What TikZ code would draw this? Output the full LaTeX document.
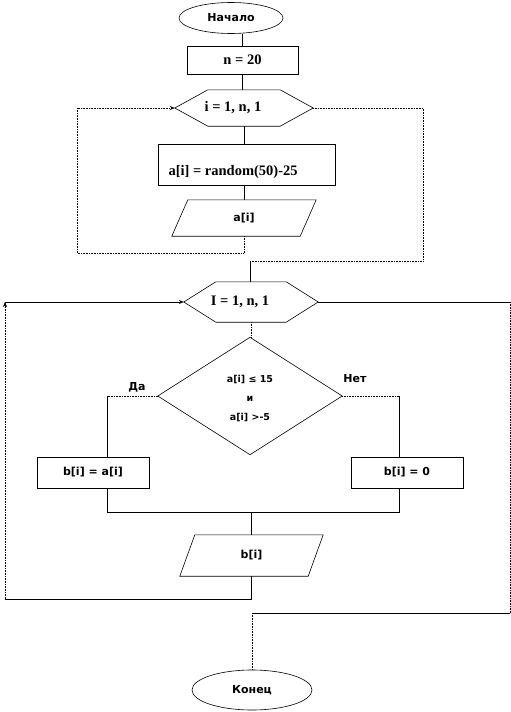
\documentclass[tikz,border=0pt]{standalone}
\usepackage{fontspec}
\setmainfont{Liberation Serif}
\newfontfamily\bsans{DejaVu Sans}[BoldFont={DejaVu Sans Bold}]
\usetikzlibrary{shapes.geometric,arrows.meta}
\newcommand\drawhex[2]{\draw[shapeline] (#1.west) -- ([xshift=#2]#1.north west) -- ([xshift=-#2]#1.north east) -- (#1.east) -- ([xshift=-#2]#1.south east) -- ([xshift=#2]#1.south west) -- cycle;}
\newcommand\drawpara[2]{\draw[shapeline] ([xshift=#2]#1.north west) -- (#1.north east) -- ([xshift=-#2]#1.south east) -- (#1.south west) -- cycle;}
\newcommand\drawdiam[1]{\draw[shapeline] (#1.north) -- (#1.east) -- (#1.south) -- (#1.west) -- cycle;}
\begin{document}
\begin{tikzpicture}[x=1pt,y=-1pt,
  shapeline/.style={line width=0.6pt},
  serif/.style={font=\bfseries\fontsize{14.5}{16}\selectfont},
  sans/.style={font=\bsans\bfseries\fontsize{11}{13}\selectfont},
  dsans/.style={font=\bsans\bfseries\fontsize{9.5}{11}\selectfont},
  ell/.style={ellipse,draw,line width=0.6pt,inner sep=0pt,sans},
  box/.style={rectangle,draw,line width=0.6pt,inner sep=0pt},
  frame/.style={rectangle,inner sep=0pt},
  conn/.style={line width=0.6pt},
  dots/.style={line width=0.6pt,densely dotted},
  arr/.style={-{Stealth[length=5pt,width=4pt]}}]
\useasboundingbox (0,0) rectangle (511,712);

% shapes
\node[ell,minimum width=104,minimum height=31] (start) at (231,18) {Начало};
\node[box,serif,minimum width=111,minimum height=28] (n20) at (242.5,60) {n = 20};
\node[frame,minimum width=138,minimum height=36] (h1) at (244,108) {};
\drawhex{h1}{33}
\node[serif] (h1t) at (233,108) {i = 1, n, 1};
\node[box,minimum width=177,minimum height=41] (r1) at (246.5,164.5) {};
\node[serif,anchor=west] (r1t) at (165,172) {a[i] = random(50)-25};
\node[frame,sans,minimum width=144,minimum height=36] (p1) at (244,218) {a[i]};
\drawpara{p1}{16}

\node[frame,minimum width=134,minimum height=40] (h2) at (251,302) {};
\drawhex{h2}{32}
\node[serif] (h2t) at (240,302) {I = 1, n, 1};

\node[frame,minimum width=184,minimum height=117] (d) at (250,396) {};
\drawdiam{d}
\node[dsans] (dt1) at (250,380) {a[i] ≤ 15};
\node[dsans] (dt2) at (250,399) {и};
\node[dsans] (dt3) at (250,418) {a[i] >-5};
\node[sans] (yes) at (137,387) {Да};
\node[sans] (no) at (355,379) {Нет};

\node[box,sans,minimum width=112,minimum height=31] (b1) at (93,472.5) {b[i] = a[i]};
\node[box,sans,minimum width=112,minimum height=31] (b2) at (407,472.5) {b[i] = 0};

\node[frame,sans,minimum width=143,minimum height=41] (p2) at (251.5,555.5) {b[i]};
\drawpara{p2}{15}

\node[ell,minimum width=120,minimum height=40] (end) at (252,690) {Конец};

% coordinates
\coordinate (l1) at (77,253);
\coordinate (rc) at (423,261);
\coordinate (j1) at (250,261);
\coordinate (yl) at (107,396);
\coordinate (yr) at (399,396);
\coordinate (ml) at (107,512);
\coordinate (mr) at (399,512);
\coordinate (m) at (251,512);
\coordinate (lb) at (5,599);
\coordinate (lt) at (5,302);
\coordinate (rt) at (510,302);
\coordinate (rb) at (510,613);

% connectors
\draw[conn] (n20.north |- start.south) -- (n20.north);
\draw[conn] (n20.south) -- (n20.south |- h1.north);
\draw[conn] (h1.south) -- (h1.south |- r1.north);
\draw[conn] (r1.south -| p1.north) -- (p1.north);
\draw[dots,arr] (p1.south) |- (l1) |- (h1.west);
\draw[dots] (h1.east) -| (rc) -- (j1);
\draw[conn] (j1) -- (j1 |- h2.north);
\draw[dots] (h2.south) -- (h2.south |- d.north);
\draw[dots] (d.west) -- (yl);
\draw[conn] (yl) -- (yl |- b1.north);
\draw[dots] (d.east) -- (yr);
\draw[conn] (yr) -- (yr |- b2.north);
\draw[conn] (ml |- b1.south) -- (ml) -- (mr) -- (mr |- b2.south);
\draw[conn] (m) -- (m |- p2.north);
\draw[conn] (p2.south) |- (lb);
\draw[dots,arr] (lb) -- (lt);
\draw[conn,arr] (lt) -- (h2.west);
\draw[conn] (h2.east) -- (rt);
\draw[dots] (rt) -- (rb);
\draw[conn] (rb) -- (end.north |- rb);
\draw[dots] (end.north |- rb) -- (end.north);
\end{tikzpicture}
\end{document}
